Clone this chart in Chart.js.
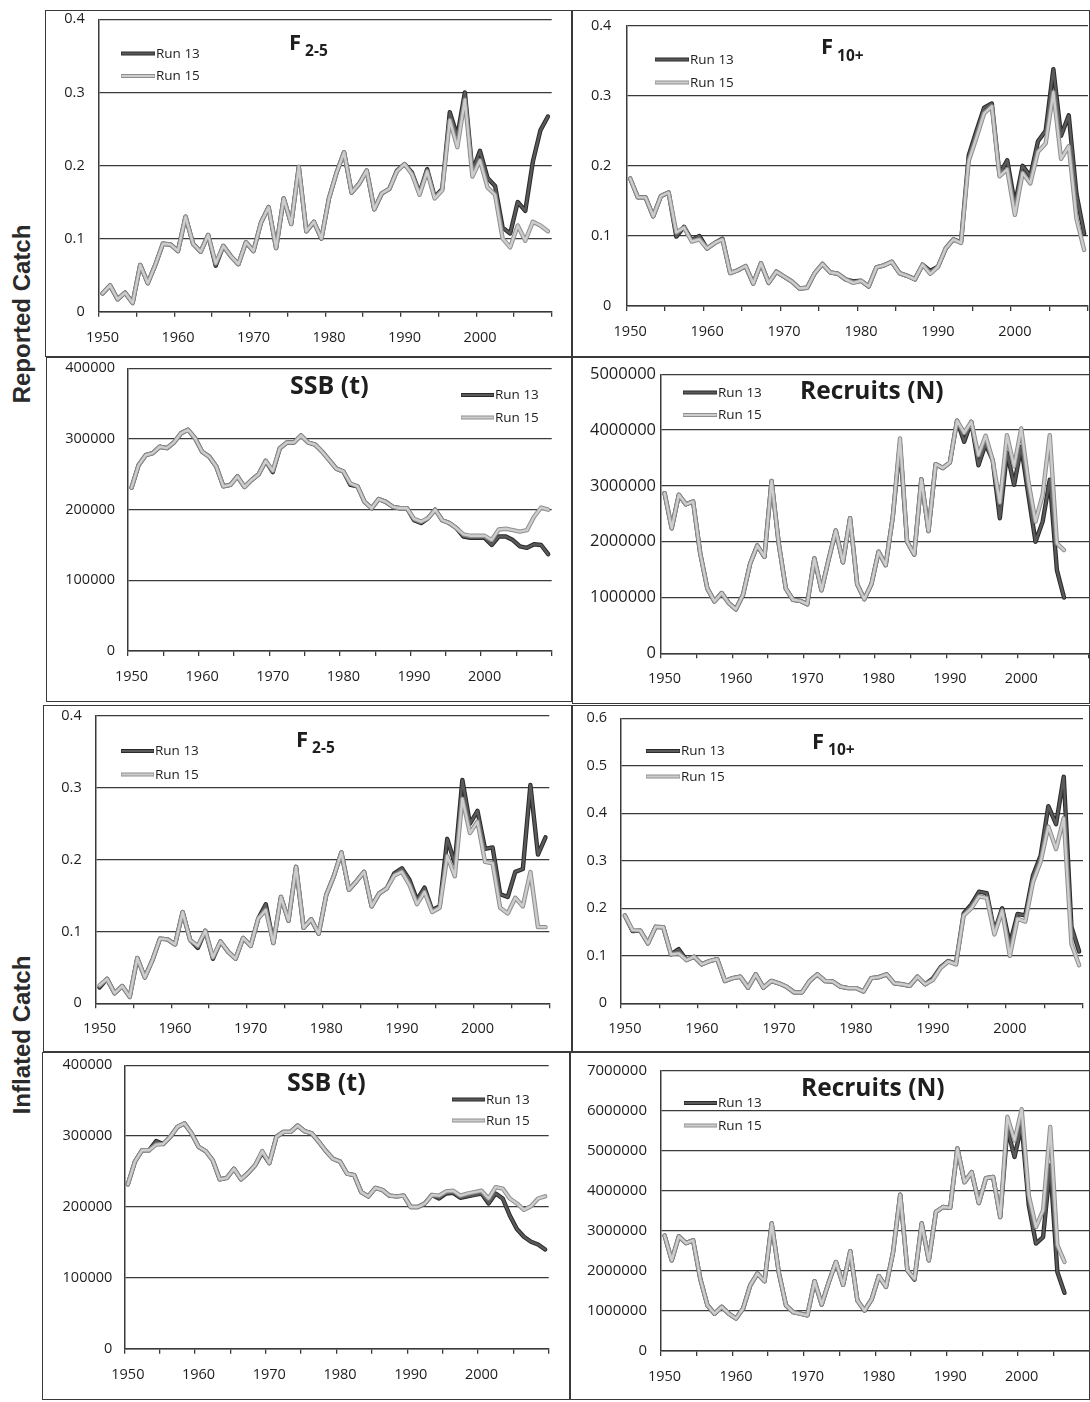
<!DOCTYPE html>
<html><head><meta charset="utf-8">
<script src="https://cdn.jsdelivr.net/npm/chart.js@4.4.1/dist/chart.umd.min.js"></script>
<style>
html,body{margin:0;padding:0;background:#fff;}
body{width:1090px;height:1402px;position:relative;overflow:hidden;}
.box{position:absolute;border:1.5px solid #3a3a3a;box-sizing:border-box;}
canvas{position:absolute;}
.side{position:absolute;transform:translate(-50%,-50%) rotate(-90deg);white-space:nowrap;font:bold 24px "Liberation Sans",Arial,sans-serif;color:#2a2a2a;}
</style></head><body>
<div class="side" style="left:22px;top:314px">Reported Catch</div>
<div class="side" style="left:22px;top:1035px">Inflated Catch</div>
<script>
const years = [1950,1951,1952,1953,1954,1955,1956,1957,1958,1959,1960,1961,1962,1963,1964,1965,1966,1967,1968,1969,
1970,1971,1972,1973,1974,1975,1976,1977,1978,1979,1980,1981,1982,1983,1984,1985,1986,1987,1988,1989,
1990,1991,1992,1993,1994,1995,1996,1997,1998,1999,2000,2001,2002,2003,2004,2005,2006,2007,2008,2009];
const seriesNames = ['Run 13','Run 15'];

// Reported catch
const f25RepRun13 = [0.025,0.036,0.017,0.026,0.012,0.064,0.039,0.064,0.093,0.092,
0.083,0.130,0.093,0.082,0.105,0.063,0.090,0.076,0.065,0.095,
0.083,0.122,0.143,0.087,0.155,0.120,0.198,0.110,0.123,0.100,
0.155,0.190,0.218,0.163,0.175,0.193,0.140,0.162,0.168,0.193,
0.202,0.190,0.162,0.195,0.157,0.168,0.273,0.240,0.300,0.192,
0.220,0.183,0.172,0.115,0.107,0.150,0.138,0.205,0.248,0.267];
const f25RepRun15 = [0.025,0.036,0.017,0.026,0.012,0.064,0.039,0.064,0.093,0.092,
0.083,0.130,0.093,0.082,0.105,0.066,0.090,0.076,0.065,0.095,
0.083,0.122,0.143,0.087,0.155,0.120,0.198,0.110,0.123,0.100,
0.155,0.190,0.218,0.163,0.175,0.193,0.140,0.162,0.168,0.192,
0.202,0.188,0.160,0.192,0.155,0.166,0.262,0.225,0.290,0.185,
0.207,0.170,0.160,0.100,0.088,0.118,0.097,0.123,0.118,0.110];

const f10RepRun13 = [0.182,0.155,0.155,0.128,0.157,0.162,0.099,0.113,0.094,0.100,
0.082,0.090,0.096,0.047,0.051,0.057,0.032,0.061,0.033,0.049,
0.042,0.035,0.025,0.026,0.047,0.060,0.048,0.046,0.038,0.035,
0.036,0.028,0.055,0.058,0.063,0.047,0.043,0.038,0.059,0.050,
0.056,0.082,0.095,0.091,0.215,0.250,0.283,0.289,0.188,0.208,
0.145,0.200,0.185,0.235,0.250,0.338,0.243,0.272,0.160,0.103];
const f10RepRun15 = [0.182,0.155,0.155,0.128,0.157,0.162,0.105,0.112,0.092,0.095,
0.082,0.090,0.095,0.047,0.051,0.057,0.032,0.061,0.033,0.049,
0.042,0.035,0.025,0.026,0.047,0.060,0.048,0.046,0.038,0.033,
0.036,0.028,0.055,0.058,0.063,0.047,0.043,0.038,0.059,0.046,
0.056,0.082,0.095,0.090,0.207,0.240,0.275,0.285,0.185,0.195,
0.130,0.190,0.175,0.220,0.232,0.305,0.210,0.228,0.125,0.080];

const ssbRepRun13 = [231000,263000,277000,280000,289000,287000,295000,308000,313000,301000,
282000,275000,261000,233000,235000,247000,232000,242000,250000,269000,
253000,287000,295000,295000,305000,295000,292000,282000,270000,258000,
254000,235000,233000,211000,202000,215000,211000,204000,202000,202000,
185000,181000,188000,200000,185000,181000,174000,162000,160000,160000,
160000,150000,162000,162000,157000,148000,146000,151000,150000,137000];
const ssbRepRun15 = [231000,263000,277000,280000,289000,287000,295000,308000,313000,301000,
282000,275000,261000,233000,235000,247000,232000,242000,250000,269000,
255000,287000,295000,295000,305000,295000,292000,282000,270000,258000,
254000,237000,233000,211000,202000,215000,211000,204000,202000,202000,
187000,183000,188000,200000,185000,181000,174000,165000,163000,163000,
163000,157000,172000,173000,171000,169000,171000,190000,203000,200000];

const recRepRun13 = [2870000,2240000,2840000,2670000,2720000,1790000,1160000,930000,1080000,900000,
790000,1050000,1610000,1930000,1730000,3090000,1970000,1160000,960000,940000,
880000,1700000,1130000,1680000,2200000,1630000,2420000,1240000,970000,1240000,
1820000,1580000,2450000,3750000,2000000,1770000,3120000,2190000,3390000,3320000,
3420000,4170000,3790000,4150000,3370000,3750000,3460000,2420000,3600000,3020000,
3700000,2840000,2000000,2360000,3110000,1490000,1000000];
const recRepRun15 = [2870000,2240000,2840000,2670000,2720000,1790000,1160000,930000,1080000,900000,
790000,1050000,1610000,1930000,1730000,3090000,1970000,1160000,960000,940000,
880000,1700000,1130000,1680000,2200000,1630000,2420000,1240000,970000,1240000,
1820000,1580000,2450000,3850000,2000000,1770000,3120000,2190000,3390000,3320000,
3420000,4170000,3950000,4150000,3550000,3900000,3460000,2700000,3910000,3350000,
4030000,3080000,2360000,2840000,3910000,1970000,1850000];

// Inflated catch
const f25InfRun13 = [0.022,0.034,0.014,0.024,0.009,0.063,0.036,0.060,0.090,0.089,
0.082,0.127,0.088,0.077,0.101,0.062,0.086,0.072,0.062,0.091,
0.080,0.118,0.138,0.084,0.148,0.115,0.190,0.105,0.117,0.097,
0.151,0.177,0.210,0.158,0.170,0.183,0.135,0.153,0.160,0.181,
0.188,0.172,0.144,0.161,0.130,0.135,0.229,0.195,0.311,0.250,
0.268,0.215,0.217,0.152,0.148,0.183,0.187,0.304,0.207,0.231];
const f25InfRun15 = [0.025,0.034,0.014,0.024,0.009,0.063,0.036,0.060,0.090,0.089,
0.082,0.127,0.088,0.080,0.101,0.064,0.086,0.072,0.062,0.091,
0.080,0.118,0.130,0.084,0.148,0.115,0.190,0.105,0.117,0.097,
0.151,0.177,0.210,0.158,0.170,0.183,0.135,0.153,0.160,0.178,
0.183,0.165,0.138,0.155,0.127,0.133,0.205,0.177,0.285,0.237,
0.253,0.197,0.195,0.133,0.125,0.147,0.135,0.183,0.106,0.106];

const f10InfRun13 = [0.185,0.152,0.153,0.126,0.161,0.160,0.103,0.114,0.091,0.098,
0.082,0.089,0.093,0.047,0.053,0.056,0.033,0.061,0.033,0.047,
0.042,0.035,0.023,0.023,0.047,0.061,0.047,0.046,0.035,0.032,
0.032,0.025,0.053,0.055,0.061,0.042,0.040,0.037,0.056,0.040,
0.052,0.076,0.089,0.083,0.189,0.208,0.235,0.232,0.151,0.200,
0.125,0.188,0.185,0.269,0.311,0.415,0.377,0.477,0.161,0.109];
const f10InfRun15 = [0.185,0.154,0.153,0.126,0.161,0.160,0.103,0.105,0.091,0.098,
0.082,0.089,0.093,0.047,0.053,0.056,0.033,0.061,0.033,0.047,
0.042,0.035,0.023,0.023,0.047,0.061,0.047,0.046,0.035,0.032,
0.032,0.025,0.053,0.055,0.061,0.042,0.040,0.037,0.056,0.040,
0.049,0.074,0.088,0.082,0.185,0.200,0.225,0.222,0.145,0.195,
0.100,0.178,0.172,0.255,0.298,0.372,0.325,0.390,0.125,0.080];

const ssbInfRun13 = [232000,264000,280000,280000,293000,289000,299000,313000,318000,304000,
285000,279000,266000,239000,241000,254000,239000,248000,259000,277000,
262000,299000,306000,306000,315000,307000,304000,292000,279000,268000,
264000,247000,245000,221000,215000,227000,224000,216000,215000,216000,
200000,200000,205000,217000,212000,219000,220000,213000,215000,217000,
219000,205000,219000,212000,188000,169000,158000,151000,147000,140000];
const ssbInfRun15 = [232000,264000,280000,280000,288000,289000,299000,313000,318000,304000,
285000,279000,266000,239000,241000,254000,239000,248000,259000,279000,
262000,299000,306000,306000,315000,307000,304000,292000,279000,268000,
264000,247000,245000,221000,215000,227000,224000,216000,215000,216000,
200000,200000,205000,217000,216000,222000,223000,216000,219000,221000,
223000,212000,228000,226000,212000,205000,196000,201000,212000,215000];

const recInfRun13 = [2880000,2260000,2860000,2690000,2760000,1800000,1140000,930000,1100000,930000,
810000,1060000,1640000,1930000,1740000,3180000,1950000,1140000,970000,930000,
890000,1740000,1160000,1720000,2220000,1650000,2490000,1260000,1010000,1290000,
1870000,1600000,2470000,3900000,2010000,1780000,3180000,2260000,3470000,3590000,
3570000,5050000,4210000,4460000,3690000,4310000,4340000,3340000,5550000,4840000,
5650000,3630000,2680000,2840000,4630000,1970000,1450000];
const recInfRun15 = [2880000,2260000,2860000,2690000,2760000,1800000,1140000,930000,1100000,930000,
810000,1060000,1640000,1930000,1740000,3180000,1950000,1140000,970000,930000,
890000,1740000,1160000,1720000,2220000,1650000,2490000,1260000,1010000,1290000,
1870000,1600000,2470000,3900000,2010000,1800000,3180000,2260000,3470000,3590000,
3570000,5050000,4210000,4460000,3690000,4310000,4340000,3340000,5840000,5250000,
6030000,3880000,3090000,3510000,5590000,2640000,2220000];

// Layout of the eight panels (page pixels): box, plot area, axis, title & legend placement
const panels = [
 {box:[45,10,572,357], plot:[98.7,19.3,551.7,311.7], max:0.4, step:0.1, r13:f25RepRun13, r15:f25RepRun15,
  title:'F', sub:'2-5', tpos:[289,49.5,55.5], tsize:22, leg:[121,155,53.5,76], yPad:14, yFont:14.5},
 {box:[572,10,1090,357], plot:[626.3,25.7,1088,306], max:0.4, step:0.1, r13:f10RepRun13, r15:f10RepRun15,
  title:'F', sub:'10+', tpos:[821,54,60.5], tsize:22, leg:[655,689,59.5,82.5], yPad:15, yFont:14.5},
 {box:[46,357,572,702], plot:[128,368.3,551.7,651], max:400000, step:100000, r13:ssbRepRun13, r15:ssbRepRun15,
  title:'SSB (t)', sub:'', tpos:[290,393.5], tsize:25, leg:[461,494,395,417.5], yPad:13, yFont:14.5},
 {box:[572,357,1090,704], plot:[661,374.3,1089,653.3], max:5000000, step:1000000, r13:recRepRun13, r15:recRepRun15,
  title:'Recruits (N)', sub:'', tpos:[800,399], tsize:24.5, leg:[683,717,392.5,415], yPad:5, yFont:16.5},
 {box:[43,705,572,1052], plot:[95.7,716,549.3,1003.3], max:0.4, step:0.1, r13:f25InfRun13, r15:f25InfRun15,
  title:'F', sub:'2-5', tpos:[296,747,753], tsize:22, leg:[121,154,751,774.5], yPad:14, yFont:14.5},
 {box:[572,705,1090,1052], plot:[621,718.3,1083,1003.3], max:0.6, step:0.1, r13:f10InfRun13, r15:f10InfRun15,
  title:'F', sub:'10+', tpos:[812,748.5,754.5], tsize:22, leg:[646,680,751,776.5], yPad:14, yFont:14.5},
 {box:[42,1052,570,1400], plot:[124.3,1065.3,548.7,1348.7], max:400000, step:100000, r13:ssbInfRun13, r15:ssbInfRun15,
  title:'SSB (t)', sub:'', tpos:[287,1091], tsize:25, leg:[452,485,1099.5,1120.5], yPad:12, yFont:14.5},
 {box:[570,1052,1090,1400], plot:[661,1070.3,1089.5,1351], max:7000000, step:1000000, r13:recInfRun13, r15:recInfRun15,
  title:'Recruits (N)', sub:'', tpos:[801,1096], tsize:24.5, leg:[684,717,1103,1125.5], yPad:14, yFont:15}
];

const C = {dark:'#5a5a5a', darkEdge:'#2a2a2a', light:'#cdcdcd', lightEdge:'#8e8e8e', grid:'#3a3a3a', text:'#1e1e1e'};
const FONT = '"Open Sans", "Noto Sans", sans-serif';
Chart.defaults.font.family = FONT;
Chart.defaults.color = C.text;

function overlayPlugin(p){
  return {
    id:'overlay'+Math.random(),
    afterDraw(chart){
      const ctx = chart.ctx, ox = p.box[0], oy = p.box[1];
      ctx.save();
      ctx.fillStyle = C.text;
      ctx.textAlign = 'left';
      ctx.textBaseline = 'alphabetic';
      ctx.font = 'bold ' + p.tsize + 'px ' + FONT;
      ctx.fillText(p.title, p.tpos[0]-ox, p.tpos[1]-oy);
      if (p.sub){
        const w = ctx.measureText(p.title).width;
        ctx.font = 'bold 15.5px ' + FONT;
        ctx.fillText(p.sub, p.tpos[0]-ox+w+4, p.tpos[2]-oy);
      }
      const [x0,x1,y13,y15] = p.leg;
      const items = [[y13,C.darkEdge,C.dark,seriesNames[0]],[y15,C.lightEdge,C.light,seriesNames[1]]];
      items.forEach(([y,edge,inner,name])=>{
        ctx.lineCap = 'butt';
        ctx.beginPath(); ctx.moveTo(x0-ox,y-oy); ctx.lineTo(x1-ox,y-oy);
        ctx.strokeStyle = edge; ctx.lineWidth = 4.2; ctx.stroke();
        ctx.beginPath(); ctx.moveTo(x0-ox+0.5,y-oy); ctx.lineTo(x1-ox-0.5,y-oy);
        ctx.strokeStyle = inner; ctx.lineWidth = 2.2; ctx.stroke();
        ctx.font = '13.5px ' + FONT;
        ctx.textBaseline = 'middle';
        ctx.fillStyle = C.text;
        ctx.fillText(name, x1-ox+1, y-oy+0.5);
      });
      ctx.restore();
    }
  };
}

panels.forEach(p=>{
  const [bl,bt,br,bb] = p.box;
  const [pl,pt,pr,pb] = p.plot;
  const frame = document.createElement('div');
  frame.className = 'box';
  Object.assign(frame.style,{left:bl+'px',top:bt+'px',width:(br-bl)+'px',height:(bb-bt)+'px'});
  document.body.appendChild(frame);
  const cv = document.createElement('canvas');
  cv.width = br-bl; cv.height = bb-bt;
  Object.assign(cv.style,{left:bl+'px',top:bt+'px',width:(br-bl)+'px',height:(bb-bt)+'px'});
  document.body.appendChild(cv);
  const yW = pl-bl, xH = bb-pb;
  const line = (data,color,width,order)=>({data, borderColor:color, borderWidth:width, order,
     pointRadius:0, tension:0, fill:false, borderJoinStyle:'round', borderCapStyle:'round'});
  new Chart(cv,{
    type:'line',
    data:{labels:years, datasets:[
      Object.assign(line(p.r15,C.light,2.4,0),{label:'Run 15'}),
      Object.assign(line(p.r15,C.lightEdge,4.4,1),{label:'Run 15 edge'}),
      Object.assign(line(p.r13,C.dark,2.4,2),{label:'Run 13'}),
      Object.assign(line(p.r13,C.darkEdge,4.4,3),{label:'Run 13 edge'})
    ]},
    options:{
      responsive:false, animation:false, devicePixelRatio:1,
      layout:{padding:{left:0,bottom:0,top:pt-bt,right:br-pr}},
      plugins:{legend:{display:false}, tooltip:{enabled:false}, title:{display:false}},
      scales:{
        x:{type:'category', offset:true,
          grid:{offset:true, drawOnChartArea:false, drawTicks:true, tickLength:5, lineWidth:1.3,
                color:c=>(c.index===undefined || c.index%5===0) ? C.grid : 'rgba(0,0,0,0)'},
          border:{display:true,color:C.grid,width:1.5},
          ticks:{autoSkip:false, maxRotation:0, minRotation:0, padding:12, color:C.text,
                 font:{size:14.5}, callback:(v,i)=> years[i]%10===0 ? String(years[i]) : ''},
          afterFit:s=>{ s.height = xH; s.paddingLeft = 0; s.paddingRight = 0; }
        },
        y:{min:0, max:p.max,
          grid:{drawTicks:false, color:C.grid, lineWidth:1.3},
          border:{display:true,color:C.grid,width:1.5},
          ticks:{stepSize:p.step, padding:p.yPad, color:C.text, font:{size:p.yFont},
                 callback:v=> String(+v.toFixed(3))},
          afterFit:s=>{ s.width = yW; s.paddingTop = 0; s.paddingBottom = 0; }
        }
      }
    },
    plugins:[overlayPlugin(p)]
  });
});
</script>
</body></html>
